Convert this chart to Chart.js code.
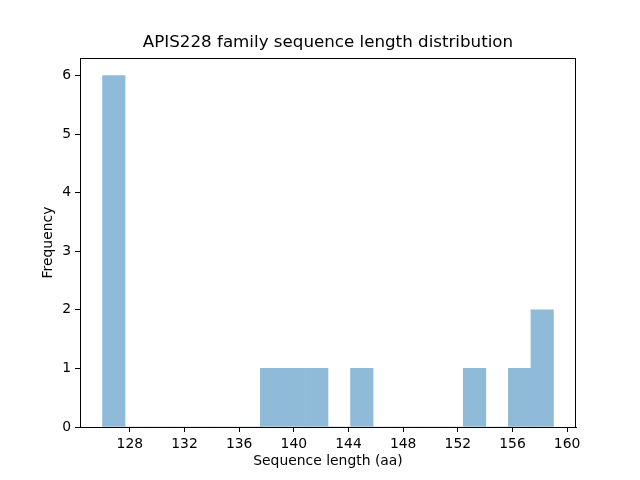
<!DOCTYPE html>
<html>
<head>
<meta charset="utf-8">
<script src="https://cdn.jsdelivr.net/npm/chart.js@4.4.1/dist/chart.umd.min.js"></script>
<style>
  html, body { margin: 0; padding: 0; background: #fff; }
  canvas { display: block; }
</style>
</head>
<body>
<canvas id="myChart" width="640" height="480"></canvas>
<script>
// histogram: 20 bins between the shortest and longest sequence
var lengthMin = 126;
var lengthMax = 159;
var binCounts = [6, 0, 0, 0, 0, 0, 0, 1, 1, 1, 0, 1, 0, 0, 0, 0, 1, 0, 1, 2];
var xTickLabels = [128, 132, 136, 140, 144, 148, 152, 156, 160];
var yTickLabels = [0, 1, 2, 3, 4, 5, 6];
var chartTitle = 'APIS228 family sequence length distribution';

var binWidth = (lengthMax - lengthMin) / binCounts.length;
var points = binCounts.map(function(c, i) {
    return { x: lengthMin + binWidth * (i + 0.5), y: c };
});

var fontFamily = "'DejaVu Sans', sans-serif";
var labelSize = 13.9;

// matplotlib draws a full box round the axes, and centres the title over it
var boxPlugin = {
    id: 'axesBox',
    afterDatasetsDraw: function(chart) {
        var a = chart.chartArea;
        var ctx = chart.ctx;
        ctx.save();
        ctx.strokeStyle = '#000';
        ctx.lineWidth = 1;
        ctx.strokeRect(Math.round(a.left) + 0.5, Math.round(a.top) + 0.5,
                       Math.round(a.right - a.left) - 1, Math.round(a.bottom - a.top));
        ctx.fillStyle = '#000';
        ctx.font = '16.7px ' + fontFamily;
        ctx.textAlign = 'center';
        ctx.textBaseline = 'middle';
        ctx.fillText(chartTitle, (a.left + a.right) / 2, 43);
        ctx.restore();
    }
};

var ctx = document.getElementById('myChart').getContext('2d');
var myChart = new Chart(ctx, {
    type: 'bar',
    data: {
        datasets: [{
            data: points,
            backgroundColor: '#8fbbd9',
            borderWidth: 0,
            barPercentage: 1,
            categoryPercentage: 1
        }]
    },
    options: {
        responsive: false,
        animation: false,
        layout: { padding: { top: 58, right: 64, bottom: 0, left: 0 } },
        plugins: {
            legend: { display: false },
            tooltip: { enabled: false },
            title: { display: false }
        },
        scales: {
            x: {
                type: 'linear',
                offset: false,
                min: lengthMin - binWidth,
                max: lengthMax + binWidth,
                afterBuildTicks: function(scale) {
                    scale.ticks = xTickLabels.map(function(v) { return { value: v }; });
                },
                afterFit: function(scale) { scale.height = 53; },
                grid: { display: true, offset: false, drawOnChartArea: false, drawTicks: true, tickLength: 5, color: '#000' },
                border: { display: true, color: '#000' },
                ticks: { color: '#000', padding: 4, maxRotation: 0, autoSkip: false,
                         font: { family: fontFamily, size: labelSize } },
                title: {
                    display: true,
                    text: 'Sequence length (aa)',
                    color: '#000',
                    font: { family: fontFamily, size: labelSize },
                    padding: { top: 10, bottom: 10 }
                }
            },
            y: {
                min: 0,
                max: 6.3,
                afterBuildTicks: function(scale) {
                    scale.ticks = yTickLabels.map(function(v) { return { value: v }; });
                },
                afterFit: function(scale) { scale.width = 80; },
                grid: { display: true, drawOnChartArea: false, drawTicks: true, tickLength: 5, color: '#000' },
                border: { display: true, color: '#000' },
                ticks: { color: '#000', padding: 4, font: { family: fontFamily, size: labelSize } },
                title: {
                    display: true,
                    text: 'Frequency',
                    color: '#000',
                    font: { family: fontFamily, size: labelSize },
                    padding: { top: 40, bottom: 40 }
                }
            }
        }
    },
    plugins: [boxPlugin]
});
</script>
</body>
</html>
